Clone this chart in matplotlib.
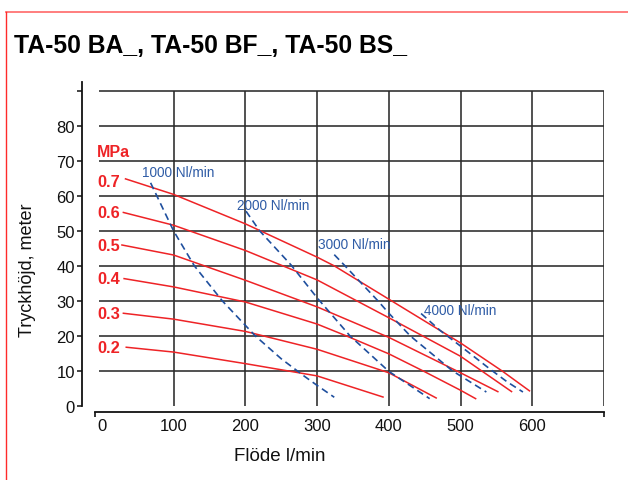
import matplotlib
matplotlib.use("Agg")
import matplotlib.pyplot as plt
from matplotlib.lines import Line2D

plt.rcParams['font.family'] = ['Liberation Sans', 'DejaVu Sans']

# ---- data -------------------------------------------------------------
title = "TA-50 BA_, TA-50 BF_, TA-50 BS_"
xlabel = "Flöde l/min"
ylabel = "Tryckhöjd, meter"

x_ticks = [0, 100, 200, 300, 400, 500, 600]
x_grid = [100, 200, 300, 400, 500, 600, 700]
y_ticks = [0, 10, 20, 30, 40, 50, 60, 70, 80, 90]
y_ticklabels = ["0", "10", "20", "30", "40", "50", "60", "70", "80", ""]
y_grid = [10, 20, 30, 40, 50, 60, 70, 80, 90]

# pressure curves (MPa) : flow l/min, head m
p07_x = [32, 100, 200, 300, 324, 400, 500, 558, 597]
p07_y = [64.9, 60.4, 52.0, 42.5, 40.0, 30.5, 18.0, 10.0, 4.2]
p06_x = [29, 100, 200, 300, 400, 500, 572]
p06_y = [55.3, 51.6, 44.4, 36.0, 25.2, 14.2, 4.0]
p05_x = [27, 100, 200, 300, 400, 495, 553]
p05_y = [46.0, 43.1, 35.9, 28.3, 19.6, 10.0, 4.0]
p04_x = [30, 100, 200, 300, 341, 400, 448, 500, 522]
p04_y = [36.4, 34.0, 29.7, 23.4, 20.0, 14.9, 10.0, 4.5, 2.0]
p03_x = [29, 100, 200, 300, 400, 467]
p03_y = [26.5, 24.8, 21.3, 16.2, 9.5, 2.2]
p02_x = [33, 100, 200, 300, 393]
p02_y = [16.8, 15.4, 12.1, 8.6, 2.5]

# air consumption curves (Nl/min)
a1000_x = [68, 100, 129, 168, 214, 250, 283, 300, 324]
a1000_y = [63.7, 50.0, 40.0, 30.0, 20.0, 13.5, 8.4, 5.9, 2.5]
a2000_x = [201, 220, 264, 300, 346, 400, 457]
a2000_y = [55.6, 50.0, 40.2, 30.9, 20.0, 9.9, 2.1]
a3000_x = [324, 339, 385, 400, 430, 489, 536]
a3000_y = [43.2, 40.0, 30.0, 26.5, 20.0, 10.0, 4.0]
a4000_x = [445, 472, 500, 542, 565, 587]
a4000_y = [26.4, 21.5, 17.1, 10.4, 6.9, 4.0]

pressure_labels = ["0.7", "0.6", "0.5", "0.4", "0.3", "0.2"]
pressure_label_y = [64.2, 55.1, 45.8, 36.4, 26.5, 16.8]
mpa_label = "MPa"
mpa_label_y = 72.5

air_labels = ["1000 Nl/min", "2000 Nl/min", "3000 Nl/min", "4000 Nl/min"]
air_label_x = [56, 188, 302, 449]
air_label_y = [66.9, 57.5, 46.3, 27.5]

# ---- figure -----------------------------------------------------------
RED = "#ee2326"
BLUE = "#1f4f9e"
BLUE_T = "#2f5ca6"
GRID = "#2a2a2a"

fig = plt.figure(figsize=(6.28, 4.81), dpi=100)
ax = fig.add_axes([95 / 628, 0.1538, 509 / 628, 0.6556])
ax.set_xlim(0, 700)
ax.set_ylim(0, 90)

# grid
ax.hlines(y_grid, -4, 700, colors=GRID, linewidth=1.15, zorder=1, clip_on=False)
ax.vlines(x_grid, 0, 90, colors=GRID, linewidth=1.15, zorder=1)

# spines
for s in ["top", "right"]:
    ax.spines[s].set_visible(False)
ax.spines["left"].set_position(("outward", 9.4))
ax.spines["left"].set_bounds(0, 92.5)
ax.spines["bottom"].set_position(("outward", 4.3))
ax.spines["bottom"].set_bounds(-9.5, 700)
for s in ["left", "bottom"]:
    ax.spines[s].set_linewidth(1.3)
    ax.spines[s].set_color("#111111")

ax.set_yticks(y_ticks)
ax.set_yticklabels(y_ticklabels)
ax.tick_params(axis="y", direction="out", length=3.8, width=1.1, pad=1.2,
               labelsize=12, colors="#111111")
ax.set_xticks(x_ticks)
ax.set_xticklabels([str(v) for v in x_ticks])
ax.set_xticks([-9.5, 700], minor=True)
ax.tick_params(axis="x", which="major", length=0, pad=4.2, labelsize=12,
               colors="#111111")
ax.tick_params(axis="x", which="minor", direction="out", length=3.5, width=1.2,
               color="#111111")

# curves
pressure_x = [p07_x, p06_x, p05_x, p04_x, p03_x, p02_x]
pressure_y = [p07_y, p06_y, p05_y, p04_y, p03_y, p02_y]
for xs, ys in zip(pressure_x, pressure_y):
    ax.plot(xs, ys, color=RED, linewidth=1.1, zorder=3,
            solid_capstyle="butt", solid_joinstyle="round")

air_x = [a1000_x, a2000_x, a3000_x, a4000_x]
air_y = [a1000_y, a2000_y, a3000_y, a4000_y]
for xs, ys in zip(air_x, air_y):
    ax.plot(xs, ys, color=BLUE, linewidth=1.2, linestyle=(0, (4.2, 2.6)),
            zorder=4)

# labels
label_x = -6.5
ax.text(label_x, mpa_label_y, mpa_label, color=RED, fontsize=11.5,
        fontweight="bold", ha="left", va="center", clip_on=False, zorder=5)
for lab, yy in zip(pressure_labels, pressure_label_y):
    ax.text(label_x, yy, lab, color=RED, fontsize=11.8, fontweight="bold",
            ha="left", va="center", clip_on=False, zorder=5)
for lab, xx, yy in zip(air_labels, air_label_x, air_label_y):
    ax.text(xx, yy, lab, color=BLUE_T, fontsize=9.8, ha="left", va="center",
            zorder=5)

fig.text(280 / 628, 1 - 457 / 481, xlabel, fontsize=13.5, ha="center",
         va="center", color="#111111")
fig.text(27 / 628, 1 - 270 / 481, ylabel, fontsize=13, rotation=90,
         ha="center", va="center", color="#111111")
fig.text(14 / 628, 1 - 46 / 481, title, fontsize=17.8, fontweight="bold",
         ha="left", va="center", color="#000000")

# red frame
fig.add_artist(Line2D([6 / 628, 1.0], [1 - 13 / 481, 1 - 13 / 481],
                      transform=fig.transFigure, color="#ff7474", linewidth=1.3))
fig.add_artist(Line2D([6 / 628, 6 / 628], [0, 1 - 13 / 481],
                      transform=fig.transFigure, color="#ff2a2a", linewidth=1.0))

fig.savefig("out.png", dpi=100)
